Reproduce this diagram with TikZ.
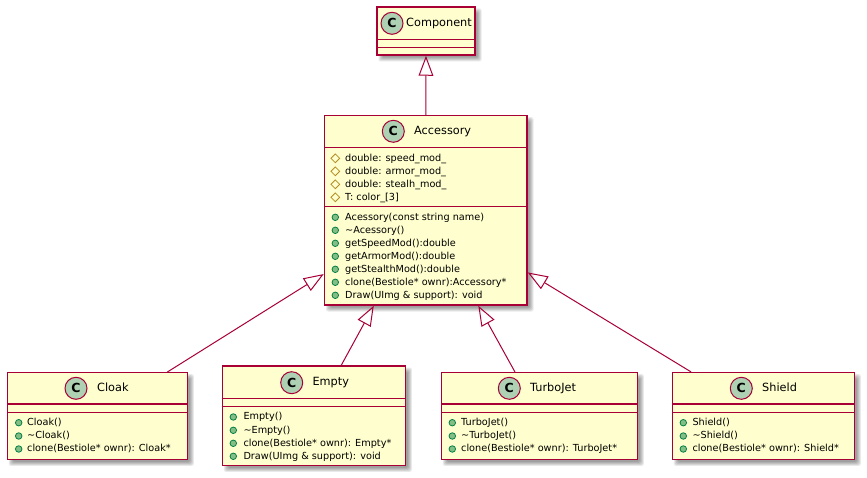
\documentclass[tikz,border=0pt]{standalone}
\usepackage{fontspec}
\setmainfont{DejaVu Sans}
\usetikzlibrary{arrows.meta,shapes.geometric}
\definecolor{umlline}{HTML}{A80036}
\definecolor{umlfill}{HTML}{FEFECE}
\definecolor{spotfill}{HTML}{ADD1B2}
\definecolor{pubfill}{HTML}{84BE84}
\definecolor{publine}{HTML}{038048}
\definecolor{protline}{HTML}{B38D22}
\newcounter{rowno}
\tikzset{
  classbox/.style={draw=umlline,fill=umlfill,line width=1.5pt,inner sep=0pt,rectangle},
  classsep/.style={draw=umlline,line width=1.2pt},
  inherit/.style={draw=umlline,line width=1pt,-{Triangle[open,length=20pt,width=14.7pt]}},
  spot/.style={circle,draw=umlline,fill=spotfill,line width=1pt,minimum size=22pt,inner sep=0pt,font=\fontsize{12.5}{14}\selectfont\bfseries,text=black},
  titletext/.style={anchor=west,inner sep=0pt,font=\fontsize{11.3}{13}\selectfont,text=black,text height=9pt,text depth=2.5pt},
  rowtext/.style={anchor=west,inner sep=0pt,font=\fontsize{9.7}{12}\selectfont,text=black,text height=8pt,text depth=2.2pt},
  pubmark/.style={circle,draw=publine,fill=pubfill,line width=.8pt,minimum size=6.5pt,inner sep=0pt},
  protmark/.style={diamond,draw=protline,fill=none,line width=.8pt,minimum size=9pt,inner sep=0pt},
}
% name, x1, y1, x2, y2, sep1, sep2
\newcommand{\classbox}[7]{%
  \foreach \d in {2.5,1.5,0.5,-0.5,-1.5}{%
    \fill[black,opacity=.085,rounded corners=2pt] ({#2+4-\d},{#3+4-\d}) rectangle ({#4+4+\d},{#5+4+\d});
  }
  \node[classbox,minimum width={#4-#2},minimum height={#5-#3}] (#1) at ({(#2+#4)/2},{(#3+#5)/2}) {};
  \draw[classsep] (#1.west |- 0,#6) -- (#1.east |- 0,#6);
  \draw[classsep] (#1.west |- 0,#7) -- (#1.east |- 0,#7);
}
% name, spot x, spot y, text x, text
\newcommand{\classtitle}[5]{%
  \node[spot] (#1spot) at (#2,#3) {C};
  \node[titletext] (#1title) at (#4,#3) {#5};
}
% mark x, text x, y, text
\newcommand{\pubrow}[4]{%
  \stepcounter{rowno}%
  \node[pubmark] (mark\arabic{rowno}) at (#1,#3) {};
  \node[rowtext] (row\arabic{rowno}) at (#2,#3) {#4};
}
\newcommand{\protrow}[4]{%
  \stepcounter{rowno}%
  \node[protmark] (mark\arabic{rowno}) at (#1,#3) {};
  \node[rowtext] (row\arabic{rowno}) at (#2,#3) {#4};
}
\newcommand{\tl}{\textasciitilde}
\begin{document}
\begin{tikzpicture}[x=1pt,y=-1pt]
\useasboundingbox[fill=white] (0,0) rectangle (867,478);

\classbox{component}{377}{7}{475}{55}{39.5}{47.3}
\classbox{accessory}{324.5}{115.7}{527}{305}{147.5}{206.3}
\classbox{cloak}{7.3}{372.7}{187.3}{459.3}{404}{412.3}
\classbox{empty}{222.3}{366}{405.3}{465.3}{398.3}{406.7}
\classbox{turbojet}{441.3}{372.7}{637.3}{459.3}{404}{412.3}
\classbox{shield}{672.3}{372.7}{854.3}{459.3}{404}{412.3}

\draw[inherit] (accessory) -- (component);
\draw[inherit] (cloak) -- (accessory);
\draw[inherit] (empty) -- (accessory);
\draw[inherit] (turbojet) -- (accessory);
\draw[inherit] (shield) -- (accessory);

\classtitle{component}{392}{23.3}{406}{Component}
\classtitle{accessory}{393.3}{131.3}{414}{Accessory}
\classtitle{cloak}{76}{388.3}{97}{Cloak}
\classtitle{empty}{291.7}{382.7}{312.3}{Empty}
\classtitle{turbojet}{509.3}{388.3}{530}{TurboJet}
\classtitle{shield}{741.3}{388.3}{762}{Shield}

\protrow{335.3}{345}{158.3}{double: speed\_mod\_}
\protrow{335.3}{345}{171.3}{double: armor\_mod\_}
\protrow{335.3}{345}{184.3}{double: stealh\_mod\_}
\protrow{335.3}{345}{197.3}{T: color\_[3]}
\pubrow{335.3}{345}{217.3}{Acessory(const string name)}
\pubrow{335.3}{345}{230.3}{\tl Acessory()}
\pubrow{335.3}{345}{243.3}{getSpeedMod():double}
\pubrow{335.3}{345}{256.3}{getArmorMod():double}
\pubrow{335.3}{345}{269.3}{getStealthMod():double}
\pubrow{335.3}{345}{282.3}{clone(Bestiole* ownr):Accessory*}
\pubrow{335.3}{345}{295.3}{Draw(UImg \& support): void}

\pubrow{18.7}{27}{422.7}{Cloak()}
\pubrow{18.7}{27}{436}{\tl Cloak()}
\pubrow{18.7}{27}{449}{clone(Bestiole* ownr): Cloak*}

\pubrow{233.3}{243.3}{417}{Empty()}
\pubrow{233.3}{243.3}{430.3}{\tl Empty()}
\pubrow{233.3}{243.3}{443.3}{clone(Bestiole* ownr): Empty*}
\pubrow{233.3}{243.3}{456.3}{Draw(UImg \& support): void}

\pubrow{452.3}{461}{422.7}{TurboJet()}
\pubrow{452.3}{461}{436}{\tl TurboJet()}
\pubrow{452.3}{461}{449}{clone(Bestiole* ownr): TurboJet*}

\pubrow{683.3}{692.3}{422.7}{Shield()}
\pubrow{683.3}{692.3}{436}{\tl Shield()}
\pubrow{683.3}{692.3}{449}{clone(Bestiole* ownr): Shield*}
\end{tikzpicture}
\end{document}
